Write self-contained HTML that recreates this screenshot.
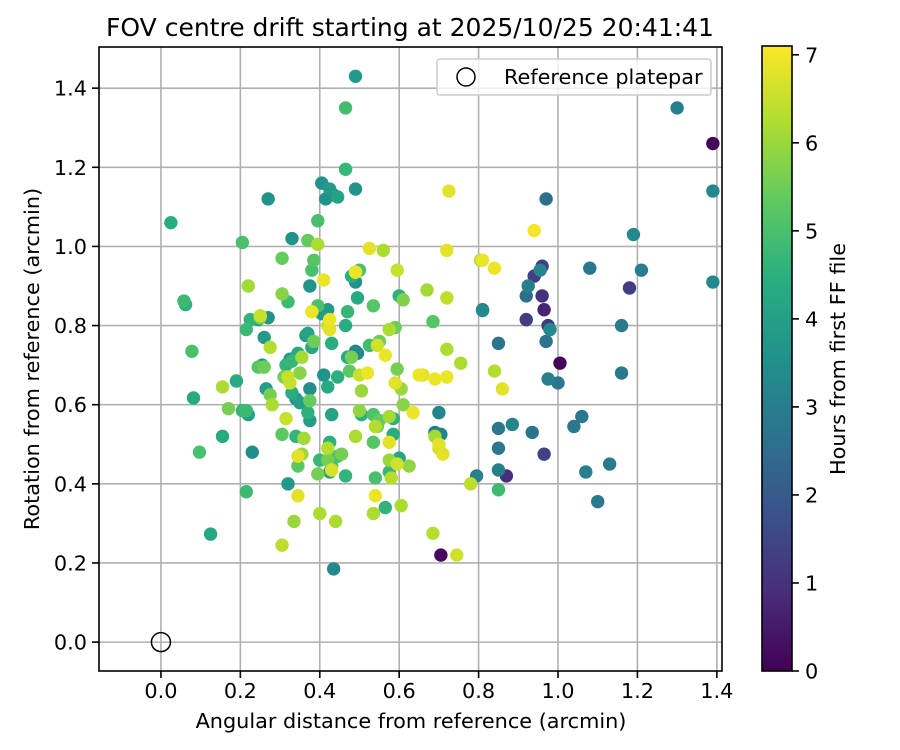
<!DOCTYPE html>
<html><head><meta charset="utf-8"><style>
body{margin:0;background:#fff;}
svg{display:block;font-family:"DejaVu Sans","Liberation Sans",sans-serif;}
</style></head><body>
<svg id="chart" width="900" height="750" xmlns="http://www.w3.org/2000/svg">
<defs>
<linearGradient id="vir" x1="0" y1="1" x2="0" y2="0">
<stop offset="0" stop-color="#440154"/><stop offset="0.125" stop-color="#472d7b"/><stop offset="0.25" stop-color="#3b528b"/><stop offset="0.375" stop-color="#2c728e"/><stop offset="0.5" stop-color="#21918c"/><stop offset="0.625" stop-color="#28ae80"/><stop offset="0.75" stop-color="#5ec962"/><stop offset="0.875" stop-color="#addc30"/><stop offset="1" stop-color="#fde725"/>
</linearGradient>
<clipPath id="pc"><rect x="99" y="47" width="623" height="624"/></clipPath>
</defs>
<text x="410" y="36" text-anchor="middle" font-size="25">FOV centre drift starting at 2025/10/25 20:41:41</text>
<g id="grid"></g>
<g id="pts" clip-path="url(#pc)"></g>
<rect x="99" y="47" width="623" height="624" fill="none" stroke="#000" stroke-width="1.6"/>
<g id="ticks"></g>
<text x="411" y="728" text-anchor="middle" font-size="20.8">Angular distance from reference (arcmin)</text>
<text transform="translate(39,359) rotate(-90)" text-anchor="middle" font-size="20.8">Rotation from reference (arcmin)</text>
<g>
<rect x="437" y="59" width="274" height="36" rx="3" fill="#fff" fill-opacity="0.8" stroke="#ccc" stroke-width="1.5"/>
<circle cx="466" cy="77" r="9" fill="none" stroke="#000" stroke-width="1.5"/>
<text x="504" y="84" font-size="20.8">Reference platepar</text>
</g>
<rect x="762" y="46" width="30" height="625" fill="url(#vir)" stroke="#000" stroke-width="1.6"/>
<g id="cbticks"></g>
<text transform="translate(845,359) rotate(-90)" text-anchor="middle" font-size="20.8">Hours from first FF file</text>
</svg>
<script>
const xs=[1.30,1.39,1.39,1.39,1.19,1.21,1.08,1.18,1.16,1.16,0.97,0.94,0.92,0.925,0.94,0.955,0.96,0.96,0.965,0.975,0.98,0.97,0.975,1.00,1.005,0.92,0.85,0.81,0.81,0.885,0.935,0.965,1.04,1.06,1.07,1.13,1.10,0.85,0.85,0.85,0.87,0.85,0.795,0.78,0.86,0.84,0.84,0.81,0.805,0.755,0.72,0.725,0.72,0.72,0.72,0.69,0.67,0.685,0.70,0.69,0.705,0.69,0.70,0.71,0.70,0.685,0.705,0.745,0.65,0.66,0.635,0.61,0.60,0.595,0.56,0.525,0.59,0.575,0.565,0.605,0.59,0.595,0.61,0.585,0.575,0.575,0.585,0.575,0.60,0.595,0.625,0.58,0.575,0.565,0.605,0.54,0.535,0.54,0.535,0.535,0.545,0.54,0.55,0.545,0.55,0.535,0.525,0.50,0.49,0.49,0.48,0.49,0.495,0.47,0.465,0.47,0.48,0.475,0.49,0.495,0.52,0.50,0.505,0.50,0.505,0.49,0.455,0.445,0.465,0.43,0.425,0.43,0.44,0.435,0.40,0.395,0.40,0.42,0.425,0.42,0.43,0.42,0.41,0.445,0.43,0.425,0.42,0.425,0.42,0.405,0.395,0.38,0.385,0.38,0.38,0.385,0.395,0.395,0.37,0.375,0.41,0.405,0.425,0.435,0.445,0.415,0.465,0.465,0.49,0.49,0.37,0.355,0.345,0.365,0.37,0.375,0.375,0.34,0.35,0.375,0.33,0.35,0.325,0.32,0.31,0.315,0.325,0.33,0.32,0.305,0.305,0.33,0.355,0.345,0.345,0.36,0.34,0.315,0.32,0.345,0.335,0.305,0.305,0.27,0.27,0.275,0.28,0.26,0.265,0.275,0.25,0.245,0.25,0.255,0.245,0.26,0.225,0.215,0.22,0.205,0.215,0.22,0.205,0.23,0.215,0.19,0.17,0.155,0.155,0.025,0.058,0.062,0.078,0.082,0.097,0.125];
const ys=[1.35,1.26,1.14,0.91,1.03,0.94,0.945,0.895,0.80,0.68,1.12,1.04,0.875,0.90,0.925,0.94,0.95,0.875,0.84,0.80,0.79,0.76,0.665,0.655,0.705,0.815,0.755,0.84,0.838,0.55,0.53,0.475,0.545,0.57,0.43,0.45,0.355,0.54,0.49,0.435,0.42,0.385,0.42,0.40,0.64,0.685,0.945,0.965,0.965,0.705,0.99,1.14,0.87,0.74,0.67,0.665,0.89,0.81,0.58,0.53,0.525,0.52,0.50,0.475,0.49,0.275,0.22,0.22,0.675,0.675,0.58,0.865,0.875,0.94,0.99,0.995,0.795,0.79,0.725,0.64,0.655,0.69,0.60,0.565,0.57,0.505,0.525,0.46,0.465,0.45,0.445,0.415,0.43,0.34,0.345,0.37,0.325,0.415,0.505,0.575,0.545,0.545,0.56,0.75,0.76,0.85,0.75,0.94,0.935,0.935,0.925,0.91,0.87,0.835,0.80,0.72,0.72,0.685,0.735,0.73,0.68,0.675,0.635,0.585,0.575,0.52,0.475,0.47,0.42,0.435,0.43,0.445,0.305,0.185,0.325,0.425,0.46,0.46,0.505,0.49,0.575,0.645,0.675,0.67,0.755,0.79,0.80,0.815,0.84,0.83,0.85,0.835,0.76,0.745,0.94,0.965,1.005,1.065,1.015,0.90,0.915,1.16,1.145,1.13,1.125,1.12,1.195,1.35,1.43,1.145,0.78,0.72,0.73,0.775,0.58,0.56,0.61,0.615,0.605,0.64,0.63,0.68,0.655,0.67,0.67,0.70,0.715,0.71,0.86,0.88,0.97,1.02,0.475,0.445,0.47,0.515,0.52,0.565,0.40,0.37,0.305,0.525,0.245,1.12,0.82,0.745,0.60,0.77,0.64,0.625,0.82,0.815,0.825,0.70,0.695,0.695,0.815,0.79,0.90,1.01,0.585,0.575,0.585,0.48,0.38,0.66,0.59,0.645,0.52,1.06,0.862,0.853,0.735,0.617,0.48,0.273];
const hours=[3,0.1,3.3,3.3,3.3,3.0,2.8,1.3,2.9,2.9,2.6,7,2.6,3.0,1.3,3.2,1.3,1.0,0.7,1.2,3.3,2.7,3.1,2.8,0.1,1.3,2.7,2.8,3.3,3.2,2.7,1.4,2.8,2.8,3.1,2.9,2.9,2.8,2.8,3.1,0.9,4.8,3.1,6.4,6.8,6.3,6.9,6.9,6.3,6.2,6.8,6.8,6.4,6.2,6.9,6.9,6.1,5.2,3.2,3.0,3.2,6.1,6.8,6.8,6.5,6.3,0.2,6.6,6.9,6.8,6.9,5.7,4.5,6.5,6.2,6.8,5.5,6.2,6.9,6.0,6.8,5.6,5.8,4.5,6.1,6.8,4.4,6.0,4.2,6.6,5.9,6.3,4.7,4.6,6.2,6.9,6.2,5.0,5.2,5.1,5.5,6.3,5.4,6.6,5.5,5.2,4.9,5.0,6.4,6.9,4.5,3.6,4.3,4.7,4.4,4.3,5.6,5.3,3.2,3.3,6.9,6.5,6.0,5.9,4.5,6.2,5.6,5.0,4.6,6.7,4.0,5.0,6.2,3.3,6.2,5.6,4.7,5.6,4.5,6.3,4.1,4.3,3.6,4.5,4.4,6.8,6.5,6.9,3.8,3.8,5.0,6.9,5.5,4.2,5.0,5.2,6.2,5.0,5.4,3.6,6.9,3.6,3.8,3.5,4.1,3.6,4.7,4.9,3.8,3.6,4.1,6.1,4.3,3.9,4.5,3.9,5.4,3.6,4.0,3.5,4.4,5.8,6.5,6.5,5.6,4.6,3.8,4.7,4.8,5.8,5.4,3.6,6.0,5.3,6.8,6.1,4.6,6.5,3.8,6.8,6.0,5.3,6.4,3.6,3.6,6.3,6.2,3.8,3.9,5.6,5.7,4.1,6.5,3.8,5.2,5.5,4.6,4.8,6.1,5.0,4.8,4.0,4.7,3.4,4.8,4.3,5.6,6.2,4.3,4.4,4.8,4.5,5.0,4.3,5.0,4.2];
const xTicks=[0.0,0.2,0.4,0.6,0.8,1.0,1.2,1.4];
const yTicks=[0.0,0.2,0.4,0.6,0.8,1.0,1.2,1.4];
const cTicks=[0,1,2,3,4,5,6,7];
const XMIN=-0.156,XMAX=1.413,YMIN=-0.073,YMAX=1.504,CMAX=7.1;
const L=99,R=722,T=47,B=671;
function sx(v){return L+(v-XMIN)/(XMAX-XMIN)*(R-L);}
function sy(v){return B-(v-YMIN)/(YMAX-YMIN)*(B-T);}
function sc(v){return 671-v/CMAX*625;}
const vir=[[68,1,84],[71,45,123],[59,82,139],[44,114,142],[33,145,140],[40,174,128],[94,201,98],[173,220,48],[253,231,37]];
function color(h){let t=Math.max(0,Math.min(1,h/CMAX))*8;let i=Math.min(7,Math.floor(t)),f=t-i;const a=vir[i],b=vir[i+1];return 'rgb('+a.map((c,k)=>Math.round(c+(b[k]-c)*f)).join(',')+')';}
const NS='http://www.w3.org/2000/svg';
function mk(tag,attrs,parent){const e=document.createElementNS(NS,tag);for(const k in attrs)e.setAttribute(k,attrs[k]);parent.appendChild(e);return e;}
const grid=document.getElementById('grid'),ticks=document.getElementById('ticks'),pts=document.getElementById('pts'),cb=document.getElementById('cbticks');
xTicks.forEach(v=>{const x=sx(v);
const g=mk('line',{x1:x,x2:x,y1:T,y2:B,stroke:'#b0b0b0','stroke-width':1.6},grid);


mk('line',{x1:x,x2:x,y1:B,y2:B+7,stroke:'#000','stroke-width':1.6},ticks);
const t=mk('text',{x:x,y:B+27,'text-anchor':'middle','font-size':20.8},ticks);t.textContent=v.toFixed(1);

});
yTicks.forEach(v=>{const y=sy(v);
const g=mk('line',{x1:L,x2:R,y1:y,y2:y,stroke:'#b0b0b0','stroke-width':1.6},grid);


mk('line',{x1:L-7,x2:L,y1:y,y2:y,stroke:'#000','stroke-width':1.6},ticks);
const t=mk('text',{x:L-12,y:y+7.5,'text-anchor':'end','font-size':20.8},ticks);t.textContent=v.toFixed(1);

});
cTicks.forEach(v=>{const y=sc(v);
mk('line',{x1:792,x2:799,y1:y,y2:y,stroke:'#000','stroke-width':1.6},cb);
const t=mk('text',{x:805,y:y+7.5,'font-size':20.8},cb);t.textContent=String(v);

});
const order=xs.map((_,i)=>i).sort((a,b)=>hours[a]-hours[b]);
order.forEach(i=>{const c=mk('circle',{cx:sx(xs[i]),cy:sy(ys[i]),r:6.7,fill:color(hours[i])},pts);

});
const ref=mk('circle',{cx:sx(0),cy:sy(0),r:9.5,fill:'none',stroke:'#000','stroke-width':1.5},pts);


</script>
</body></html>
